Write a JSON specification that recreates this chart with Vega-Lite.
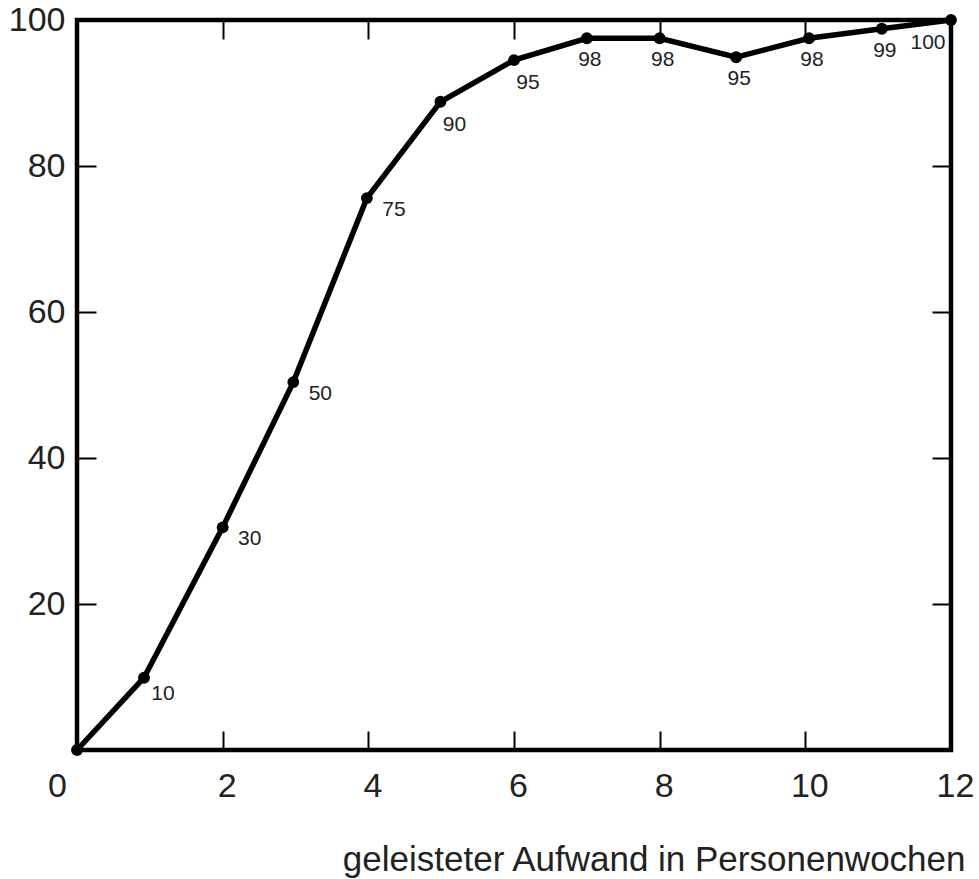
{
  "$schema": "https://vega.github.io/schema/vega-lite/v6.json",
  "width": 874,
  "height": 730,
  "autosize": "none",
  "padding": {"left": 77, "top": 20, "right": 28, "bottom": 129},
  "background": "white",
  "config": {
    "view": {"stroke": "black", "strokeWidth": 4.5},
    "font": "Liberation Sans"
  },
  "data": {
    "values": [
      {"x": 0, "y": 0, "label": ""},
      {"x": 0.92, "y": 9.9, "label": "10"},
      {"x": 2, "y": 30.5, "label": "30"},
      {"x": 2.97, "y": 50.4, "label": "50"},
      {"x": 3.98, "y": 75.6, "label": "75"},
      {"x": 4.99, "y": 88.8, "label": "90"},
      {"x": 6, "y": 94.5, "label": "95"},
      {"x": 7, "y": 97.5, "label": "98"},
      {"x": 8, "y": 97.5, "label": "98"},
      {"x": 9.05, "y": 94.9, "label": "95"},
      {"x": 10.05, "y": 97.5, "label": "98"},
      {"x": 11.05, "y": 98.8, "label": "99"},
      {"x": 12, "y": 100, "label": "100"}
    ]
  },
  "layer": [
    {
      "mark": {"type": "line", "color": "black", "strokeWidth": 5.5},
      "encoding": {
        "x": {
          "field": "x", "type": "quantitative",
          "scale": {"domain": [0, 12], "nice": false, "zero": false},
          "axis": {
            "orient": "bottom",
            "values": [0, 2, 4, 6, 8, 10, 12],
            "domain": false,
            "grid": false,
            "tickSize": -19,
            "tickWidth": 2,
            "tickColor": "black",
            "labelFontSize": 34,
            "labelColor": "#222",
            "labelPadding": 38,
            "labelFlush": false,
            "labelOverlap": false,
            "labelOffset": {"condition": {"test": "datum.value == 0", "value": -20}, "value": 4},
            "title": "geleisteter Aufwand in Personenwochen",
            "titleFontSize": 35,
            "titleFontWeight": "normal",
            "titleColor": "#222",
            "titleAnchor": "end",
            "titleAlign": "right",
            "titleBaseline": "alphabetic",
            "titleX": 888,
            "titleY": 120
          }
        },
        "y": {
          "field": "y", "type": "quantitative",
          "scale": {"domain": [0, 100], "nice": false},
          "axis": {
            "orient": "left",
            "values": [20, 40, 60, 80, 100],
            "domain": false,
            "grid": false,
            "tickSize": -19,
            "tickWidth": 2,
            "tickColor": "black",
            "labelFontSize": 34,
            "labelColor": "#222",
            "labelPadding": 31,
            "labelFlush": false,
            "title": null
          }
        }
      }
    },
    {
      "mark": {"type": "point", "filled": true, "shape": "circle", "size": 140, "color": "black", "opacity": 1},
      "encoding": {
        "x": {
          "field": "x", "type": "quantitative",
          "axis": {
            "orient": "top",
            "values": [2, 4, 6, 8, 10],
            "domain": false,
            "grid": false,
            "labels": false,
            "tickSize": -19,
            "tickWidth": 2,
            "tickColor": "black",
            "title": null
          }
        },
        "y": {
          "field": "y", "type": "quantitative",
          "axis": {
            "orient": "right",
            "values": [20, 40, 60, 80],
            "domain": false,
            "grid": false,
            "labels": false,
            "tickSize": -19,
            "tickWidth": 2,
            "tickColor": "black",
            "title": null
          }
        }
      }
    },
    {
      "transform": [{"filter": "datum.x > 0.5 && datum.x < 1.5"}],
      "mark": {"type": "text", "fontSize": 21, "color": "#222", "align": "center", "baseline": "middle", "dx": 19, "dy": 16},
      "encoding": {
        "x": {"field": "x", "type": "quantitative", "axis": null},
        "y": {"field": "y", "type": "quantitative", "axis": null},
        "text": {"field": "label"}
      }
    },
    {
      "transform": [{"filter": "datum.x > 1.5 && datum.x < 4.5"}],
      "mark": {"type": "text", "fontSize": 21, "color": "#222", "align": "center", "baseline": "middle", "dx": 27, "dy": 12},
      "encoding": {
        "x": {"field": "x", "type": "quantitative", "axis": null},
        "y": {"field": "y", "type": "quantitative", "axis": null},
        "text": {"field": "label"}
      }
    },
    {
      "transform": [{"filter": "datum.x > 4.5 && datum.x < 6.5"}],
      "mark": {"type": "text", "fontSize": 21, "color": "#222", "align": "center", "baseline": "middle", "dx": 14, "dy": 23},
      "encoding": {
        "x": {"field": "x", "type": "quantitative", "axis": null},
        "y": {"field": "y", "type": "quantitative", "axis": null},
        "text": {"field": "label"}
      }
    },
    {
      "transform": [{"filter": "datum.x > 6.5 && datum.x < 11.5"}],
      "mark": {"type": "text", "fontSize": 21, "color": "#222", "align": "center", "baseline": "middle", "dx": 3, "dy": 22},
      "encoding": {
        "x": {"field": "x", "type": "quantitative", "axis": null},
        "y": {"field": "y", "type": "quantitative", "axis": null},
        "text": {"field": "label"}
      }
    },
    {
      "transform": [{"filter": "datum.x > 11.5"}],
      "mark": {"type": "text", "fontSize": 21, "color": "#222", "align": "center", "baseline": "middle", "dx": -23, "dy": 23},
      "encoding": {
        "x": {"field": "x", "type": "quantitative", "axis": null},
        "y": {"field": "y", "type": "quantitative", "axis": null},
        "text": {"field": "label"}
      }
    }
  ]
}
